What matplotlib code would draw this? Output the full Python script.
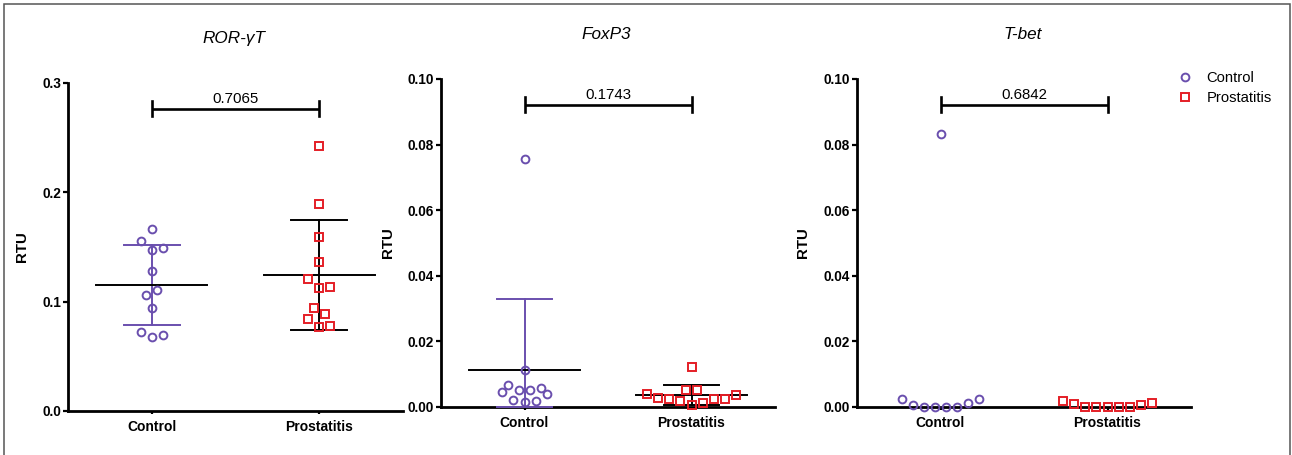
import matplotlib.pyplot as plt
import numpy as np
from matplotlib.lines import Line2D
from matplotlib.patches import Rectangle

plt.rcParams['font.family'] = ['Liberation Sans', 'DejaVu Sans']

# Data (RTU per sample)
genes = ['ROR-γT', 'FoxP3', 'T-bet']
groups = ['Control', 'Prostatitis']
p_values = ['0.7065', '0.1743', '0.6842']

ror_control = [0.1662, 0.1555, 0.1476, 0.1494, 0.1283, 0.1106, 0.1060, 0.0944, 0.0718, 0.0678, 0.0694]
ror_prost = [0.2426, 0.1894, 0.1595, 0.1360, 0.1204, 0.1124, 0.1134, 0.0944, 0.0883, 0.0840, 0.0767, 0.0773]
foxp3_control = [0.0757, 0.0112, 0.0068, 0.0045, 0.0051, 0.0051, 0.0058, 0.0039, 0.0020, 0.0016, 0.0018]
foxp3_prost = [0.0121, 0.0053, 0.0051, 0.0040, 0.0038, 0.0028, 0.0025, 0.0023, 0.0024, 0.0018, 0.0013, 0.0007]
tbet_control = [0.0832, 0.0023, 0.0007, 0.0001, 0.0000, 0.0000, 0.0001, 0.0013, 0.0025]
tbet_prost = [0.0019, 0.0010, 0.0000, 0.0000, 0.0000, 0.0000, 0.0000, 0.0006, 0.0012]

# swarm slots (horizontal spread of the dots, in marker spacings)
ror_control_dx = [0, -1, 0, 1, 0, 0.5, -0.5, 0, -1, 0, 1]
ror_prost_dx = [0, 0, 0, 0, -1, 0, 1, -0.5, 0.5, -1, 0, 1]
foxp3_control_dx = [0, 0, -1.5, -2, -0.5, 0.5, 1.5, 2, -1, 0, 1]
foxp3_prost_dx = [0, -0.5, 0.5, -4, 4, -3, 3, 2, -2, -1, 1, 0]
tbet_control_dx = [0, -3.5, -2.5, -1.5, -0.5, 0.5, 1.5, 2.5, 3.5]
tbet_prost_dx = [-4, -3, -2, -1, 0, 1, 2, 3, 4]

purple = '#6a4fae'
red = '#e41e26'
slot = 0.066

panels = [
    (ror_control, ror_prost, ror_control_dx, ror_prost_dx, 0.3, [0, 0.1, 0.2, 0.3], '{:.1f}', True),
    (foxp3_control, foxp3_prost, foxp3_control_dx, foxp3_prost_dx, 0.1, [0, 0.02, 0.04, 0.06, 0.08, 0.10], '{:.2f}', True),
    (tbet_control, tbet_prost, tbet_control_dx, tbet_prost_dx, 0.1, [0, 0.02, 0.04, 0.06, 0.08, 0.10], '{:.2f}', False),
]
positions = [
    [68 / 1292, 44 / 455, 335 / 1292, 328 / 455],
    [441 / 1292, 48 / 455, 334 / 1292, 328 / 455],
    [857 / 1292, 48 / 455, 334 / 1292, 328 / 455],
]
label_x = [-0.116, -0.138, -0.14]

fig = plt.figure(figsize=(12.92, 4.55), dpi=100)

for k, (ctrl, prost, dx_c, dx_p, ymax, yticks, fmt, show_sd) in enumerate(panels):
    ax = fig.add_axes(positions[k])
    ax.set_xlim(-0.5, 1.5)
    ax.set_ylim(0, ymax)

    for i, (vals, dx, col, mk) in enumerate([(ctrl, dx_c, purple, 'o'), (prost, dx_p, red, 's')]):
        vals = np.array(vals)
        xs = i + np.array(dx) * slot
        ax.plot(xs, vals, linestyle='none', marker=mk, ms=5.6, mfc='none', mec=col,
                mew=1.4, clip_on=False, zorder=4)
        if show_sd:
            m = vals.mean()
            sd = vals.std(ddof=1)
            lo = max(m - sd, 0)
            hi = m + sd
            sd_col = purple if i == 0 else 'black'
            ax.plot([i, i], [lo, hi], color=sd_col, lw=1.4, zorder=3, clip_on=False)
            ax.plot([i - 0.167, i + 0.167], [hi, hi], color=sd_col, lw=1.4, zorder=3)
            ax.plot([i - 0.167, i + 0.167], [lo, lo], color=sd_col, lw=1.4, zorder=3, clip_on=False)
            ax.plot([i - 0.33, i + 0.33], [m, m], color='black', lw=1.4, zorder=3)

    # significance bracket
    yb = 0.921 * ymax
    cap = 0.023 * ymax
    ax.plot([0, 1], [yb, yb], color='black', lw=1.9, solid_capstyle='butt')
    ax.plot([0, 0], [yb - cap, yb + cap], color='black', lw=1.9)
    ax.plot([1, 1], [yb - cap, yb + cap], color='black', lw=1.9)
    ax.annotate(p_values[k], (0.5, yb), xytext=(0, 4), textcoords='offset points',
                ha='center', va='baseline', fontsize=10.8)

    ax.annotate(genes[k], (0.495, 1), xycoords='axes fraction', xytext=(0, 32),
                textcoords='offset points', ha='center', va='center',
                fontsize=12.3, fontstyle='italic')

    ax.set_xticks([0, 1], groups)
    ax.set_yticks(yticks, [fmt.format(t) for t in yticks])
    for lab in ax.get_xticklabels() + ax.get_yticklabels():
        lab.set_fontweight('bold')
    ax.tick_params(axis='y', length=3.6, width=1.6, pad=1.5, labelsize=9.8)
    ax.tick_params(axis='x', length=2.5, width=1.6, pad=4, labelsize=10)
    ax.set_ylabel('RTU', fontsize=10.8, fontweight='bold')
    ax.yaxis.set_label_coords(label_x[k], 0.5)

    for s in ['top', 'right']:
        ax.spines[s].set_visible(False)
    for s in ['left', 'bottom']:
        ax.spines[s].set_linewidth(2.0)

handles = [
    Line2D([], [], linestyle='none', marker='o', ms=5.6, mfc='none', mec=purple, mew=1.4),
    Line2D([], [], linestyle='none', marker='s', ms=5.6, mfc='none', mec=red, mew=1.4),
]
fig.legend(handles, groups, loc='upper left', bbox_to_anchor=(1178 / 1292, 1 - 71 / 455),
           frameon=False, fontsize=10.6, handlelength=1.0, handletextpad=0.95,
           labelspacing=0.4, borderpad=0, borderaxespad=0)

# thin grey frame around the figure
fig.add_artist(Rectangle((4 / 1292, -0.02), 1286 / 1292, 1.02 - 4 / 455,
                         transform=fig.transFigure, fill=False, edgecolor='#555555', lw=1.1))

fig.savefig('out.png', dpi=100)
